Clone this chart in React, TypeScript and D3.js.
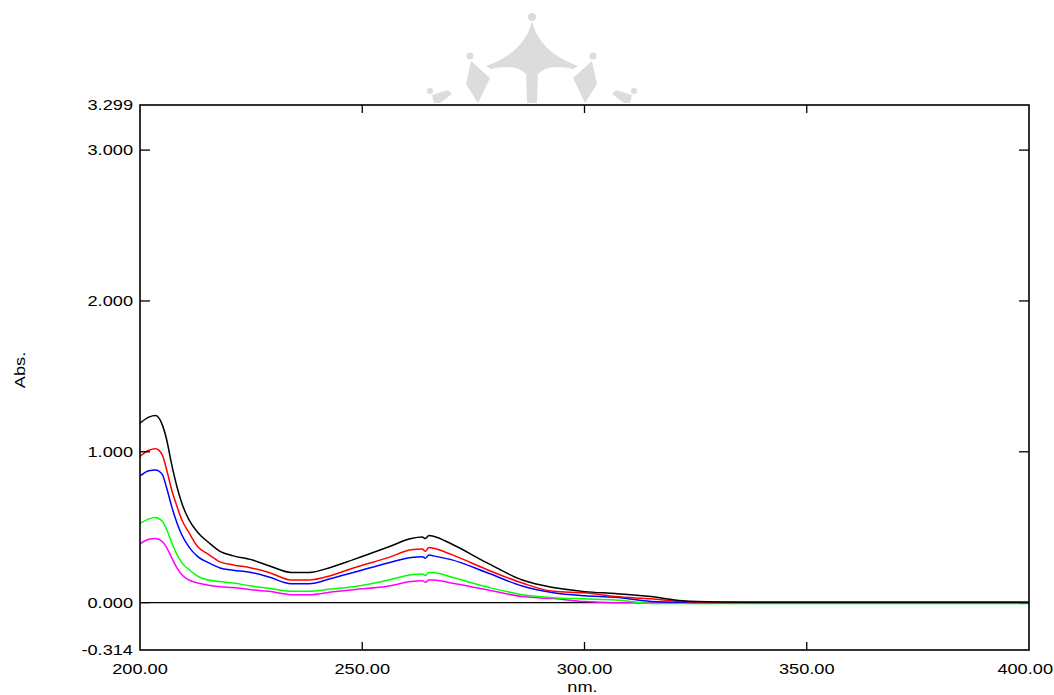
import React from "react";
import * as d3 from "d3";

const wavelengths = [200, 202, 203.5, 205, 206, 207.1, 208.3, 209.4, 211, 213, 215.4, 218, 221, 225, 229, 234, 238, 243, 248, 256, 261, 263.5, 264.2, 265, 266, 270, 278, 286, 293, 300, 307, 315, 322, 330, 340, 400];

const seriesBlack = [1.19, 1.23, 1.24, 1.18, 1.08, 0.92, 0.77, 0.66, 0.55, 0.465, 0.40, 0.34, 0.31, 0.285, 0.245, 0.20, 0.20, 0.235, 0.285, 0.37, 0.425, 0.435, 0.425, 0.445, 0.44, 0.39, 0.265, 0.15, 0.10, 0.073, 0.06, 0.04, 0.013, 0.005, 0.003, 0.003];
const seriesRed = [0.97, 1.01, 1.02, 0.98, 0.88, 0.75, 0.64, 0.55, 0.465, 0.37, 0.32, 0.27, 0.25, 0.23, 0.20, 0.15, 0.15, 0.18, 0.23, 0.30, 0.35, 0.355, 0.34, 0.365, 0.36, 0.32, 0.22, 0.13, 0.075, 0.065, 0.04, 0.025, 0.007, 0.003, 0.002, 0.002];
const seriesBlue = [0.84, 0.875, 0.88, 0.85, 0.76, 0.64, 0.53, 0.45, 0.37, 0.305, 0.265, 0.23, 0.215, 0.20, 0.17, 0.125, 0.125, 0.16, 0.20, 0.265, 0.30, 0.305, 0.295, 0.315, 0.31, 0.285, 0.20, 0.11, 0.065, 0.045, 0.035, 0.008, 0.002, 0.001, 0.001, 0.001];
const seriesGreen = [0.525, 0.555, 0.565, 0.54, 0.485, 0.40, 0.32, 0.265, 0.22, 0.175, 0.15, 0.14, 0.13, 0.11, 0.095, 0.075, 0.075, 0.09, 0.105, 0.15, 0.185, 0.19, 0.18, 0.20, 0.20, 0.17, 0.105, 0.053, 0.033, 0.025, 0.018, -0.005, -0.006, -0.006, -0.006, -0.006];
const seriesMagenta = [0.39, 0.42, 0.425, 0.405, 0.365, 0.30, 0.23, 0.185, 0.15, 0.13, 0.115, 0.105, 0.10, 0.086, 0.075, 0.053, 0.053, 0.07, 0.086, 0.11, 0.14, 0.145, 0.135, 0.15, 0.15, 0.13, 0.086, 0.04, 0.027, 0.007, 0.0, 0.0, 0.0, 0.0, 0.0, 0.0];

const seriesList = [
  { name: "magenta", values: seriesMagenta, color: "#ff00ff" },
  { name: "green", values: seriesGreen, color: "#00ff00" },
  { name: "blue", values: seriesBlue, color: "#0000ff" },
  { name: "red", values: seriesRed, color: "#ff0000" },
  { name: "black", values: seriesBlack, color: "#000000" },
];

const yTicks = [-0.314, 0, 1, 2, 3, 3.299];
const yTickLabels = ["-0.314", "0.000", "1.000", "2.000", "3.000", "3.299"];
const xTicks = [200, 250, 300, 350, 400];
const xTickLabels = ["200.00", "250.00", "300.00", "350.00", "400.00"];

const W = 1054;
const H = 695;
const L = 140, R = 1029, T = 105, B = 650;

export default function App() {
  const x = d3.scaleLinear().domain([200, 400]).range([L, R]);
  const y = d3.scaleLinear().domain([-0.314, 3.299]).range([B, T]);
  const line = d3
    .line<[number, number]>()
    .x((d) => x(d[0]))
    .y((d) => y(d[1]))
    .curve(d3.curveMonotoneX);

  const font = "'Liberation Sans', Arial, sans-serif";
  const sx = 1.3;

  return (
    <svg
      width={W}
      height={H}
      style={{ position: "absolute", left: 0, top: 0, background: "#fff" }}
      fontFamily={font}
    >
      <rect x={0} y={0} width={W} height={H} fill="#fff" />
      {/* watermark */}
      <g fill="#dcdcdc">
        <circle cx={532} cy={17} r={4} />
        <path d="M532,21 Q525,52 486,66 L491,69 Q516,63 526,74 L527,103 L537,103 L538,74 Q548,63 573,69 L578,66 Q539,52 532,21 Z" />
        <circle cx={470} cy={56} r={3.5} />
        <path d="M471,61 L490,78 L478,103 L466,84 Z" />
        <circle cx={593} cy={56} r={3.5} />
        <path d="M592,61 L573,78 L585,103 L597,84 Z" />
        <circle cx={430} cy={91} r={3} />
        <path d="M432,95 L448,90 L452,94 L440,103 L434,103 Z" />
        <circle cx={634} cy={91} r={3} />
        <path d="M632,95 L616,90 L612,94 L624,103 L630,103 Z" />
      </g>

      {/* zero line */}
      <line x1={L} x2={R} y1={y(0)} y2={y(0)} stroke="#000" strokeWidth={1.3} />

      {/* curves */}
      <g fill="none" strokeWidth={1.5}>
        {seriesList.map((s) => (
          <path
            key={s.name}
            d={line(wavelengths.map((w, i) => [w, s.values[i]] as [number, number])) || ""}
            stroke={s.color}
          />
        ))}
      </g>

      {/* frame */}
      <rect x={L} y={T} width={R - L} height={B - T} fill="none" stroke="#000" strokeWidth={1.6} />

      {/* y ticks */}
      {yTicks.map((v, i) => (
        <g key={"y" + i}>
          {i > 0 && i < yTicks.length - 1 && (
            <>
              <line x1={L} x2={L + 10} y1={y(v)} y2={y(v)} stroke="#000" strokeWidth={1.3} />
              <line x1={R - 10} x2={R} y1={y(v)} y2={y(v)} stroke="#000" strokeWidth={1.3} />
            </>
          )}
          <text
            transform={`translate(${L - 7},${y(v) + 5}) scale(${sx},1)`}
            textAnchor="end"
            fontSize={14}
            fill="#000"
          >
            {yTickLabels[i]}
          </text>
        </g>
      ))}

      {/* x ticks */}
      {xTicks.map((v, i) => {
        const last = i === xTicks.length - 1;
        return (
          <g key={"x" + i}>
            {i > 0 && !last && (
              <>
                <line x1={x(v)} x2={x(v)} y1={B} y2={B - 8} stroke="#000" strokeWidth={1.3} />
                <line x1={x(v)} x2={x(v)} y1={T} y2={T + 8} stroke="#000" strokeWidth={1.3} />
              </>
            )}
            <text
              transform={`translate(${last ? W - 1 : x(v)},${674}) scale(${sx},1)`}
              textAnchor={last ? "end" : "middle"}
              fontSize={14}
              fill="#000"
            >
              {xTickLabels[i]}
            </text>
          </g>
        );
      })}

      {/* axis titles */}
      <text
        transform={`translate(${(L + R) / 2 - 2},${692}) scale(${sx},1)`}
        textAnchor="middle"
        fontSize={14}
        fill="#000"
      >
        nm.
      </text>
      <text
        transform={`translate(25,370) rotate(-90) scale(${sx},1)`}
        textAnchor="middle"
        fontSize={14}
        fill="#000"
      >
        Abs.
      </text>
    </svg>
  );
}
